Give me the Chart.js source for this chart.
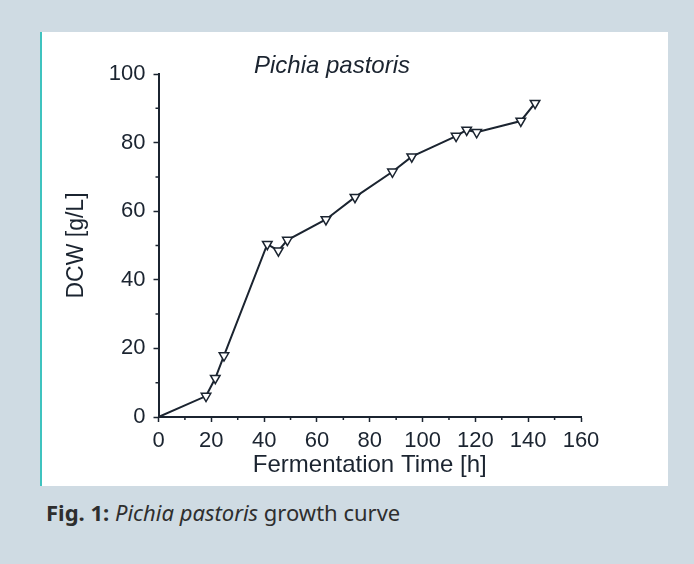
<!DOCTYPE html>
<html>
<head>
<meta charset="utf-8">
<script src="https://cdn.jsdelivr.net/npm/chart.js@4"></script>
<style>
  body { margin: 0; background: #cfdbe3; width: 694px; height: 564px; position: relative; overflow: hidden; }
  #panel { position: absolute; left: 40px; top: 32px; width: 628px; height: 454px; background: #fff; }
  #panel:before { content: ''; position: absolute; left: 0; top: 0; width: 2px; height: 100%; background: #3fc3bf; }
  #caption { position: absolute; left: 46px; top: 497px; font-family: 'Noto Sans', sans-serif; font-size: 22px; color: #2e2e2e; white-space: nowrap; }
</style>
</head>
<body>
<div id="panel"><canvas id="myChart" width="628" height="454"></canvas></div>
<div id="caption"><b>Fig. 1:</b> <i>Pichia pastoris</i> growth curve</div>
<script>
'use strict';

// fermentation time in hours and dry cell weight
let hours = [0, 18, 21.5, 24.8, 41.2, 45.4, 48.8, 63.4, 74.4, 88.6, 95.9, 112.7, 116.7, 120.5, 137.2, 142.6];
let dcw = [0, 6.1, 11.3, 17.9, 50.4, 48.5, 51.6, 57.6, 64.1, 71.5, 75.9, 81.9, 83.7, 83.0, 86.3, 91.5];
let xTicks = [0, 20, 40, 60, 80, 100, 120, 140, 160];
let yTicks = [0, 20, 40, 60, 80, 100];

let ink = '#1b2430';
let points = [];
for (let i = 0; i < hours.length; i++) {
  points.push({ x: hours[i], y: dcw[i] });
}

// small ticks between the labelled ones
let minorTicks = {
  id: 'minorTicks',
  afterDraw(chart) {
    let ctx = chart.ctx;
    let xs = chart.scales.x;
    let ys = chart.scales.y;
    ctx.save();
    ctx.strokeStyle = ink;
    ctx.lineWidth = 1.5;
    ctx.beginPath();
    for (let i = 0; i < xTicks.length - 1; i++) {
      let px = xs.getPixelForValue((xTicks[i] + xTicks[i + 1]) / 2);
      ctx.moveTo(px, ys.bottom);
      ctx.lineTo(px, ys.bottom + 3);
    }
    for (let i = 0; i < yTicks.length - 1; i++) {
      let py = ys.getPixelForValue((yTicks[i] + yTicks[i + 1]) / 2);
      ctx.moveTo(xs.left, py);
      ctx.lineTo(xs.left - 3, py);
    }
    ctx.stroke();
    ctx.restore();
  }
};

let ctx = document.getElementById('myChart').getContext('2d');
let myChart = new Chart(ctx, {
  type: 'scatter',
  data: {
    datasets: [{
      data: points,
      showLine: true,
      borderColor: ink,
      borderWidth: 2,
      backgroundColor: '#ffffff',
      pointStyle: 'triangle',
      rotation: 180,
      pointRadius: (c) => c.dataIndex === 0 ? 0 : 5.5,
      pointBorderWidth: 1.5,
      pointBorderColor: ink,
      pointBackgroundColor: '#ffffff'
    }]
  },
  plugins: [minorTicks],
  options: {
    responsive: false,
    animation: false,
    layout: { padding: { left: 43, right: 87, top: 0, bottom: 0 } },
    plugins: {
      legend: { display: false },
      tooltip: { enabled: false },
      title: {
        display: true,
        text: 'Pichia pastoris',
        color: ink,
        font: { family: 'Liberation Sans', size: 24, style: 'italic', weight: 'normal' },
        padding: { top: 20, bottom: -6.8 }
      }
    },
    scales: {
      x: {
        type: 'linear',
        min: 0,
        max: 160,
        afterBuildTicks: (s) => { s.ticks = xTicks.map(v => ({ value: v })); },
        afterFit: (s) => { s.height = 69; },
        ticks: { color: ink, font: { family: 'Liberation Sans', size: 22 }, padding: 6, maxRotation: 0 },
        grid: { drawOnChartArea: false, tickLength: 5, tickColor: ink, tickWidth: 1.5 },
        border: { color: ink, width: 2 },
        title: { display: true, text: 'Fermentation Time [h]', color: ink, font: { family: 'Liberation Sans', size: 24 }, padding: { top: 2, bottom: 6.5 } }
      },
      y: {
        type: 'linear',
        min: 0,
        max: 100,
        afterBuildTicks: (s) => { s.ticks = yTicks.map(v => ({ value: v })); },
        afterFit: (s) => { s.width = 75.5; },
        ticks: { color: ink, font: { family: 'Liberation Sans', size: 22 }, padding: 8 },
        grid: { drawOnChartArea: false, tickLength: 5, tickColor: ink, tickWidth: 1.5 },
        border: { color: ink, width: 2 },
        title: { display: true, text: 'DCW [g/L]', color: ink, font: { family: 'Liberation Sans', size: 23 }, padding: { top: -20, bottom: 6 } }
      }
    }
  }
});
</script>
</body>
</html>
